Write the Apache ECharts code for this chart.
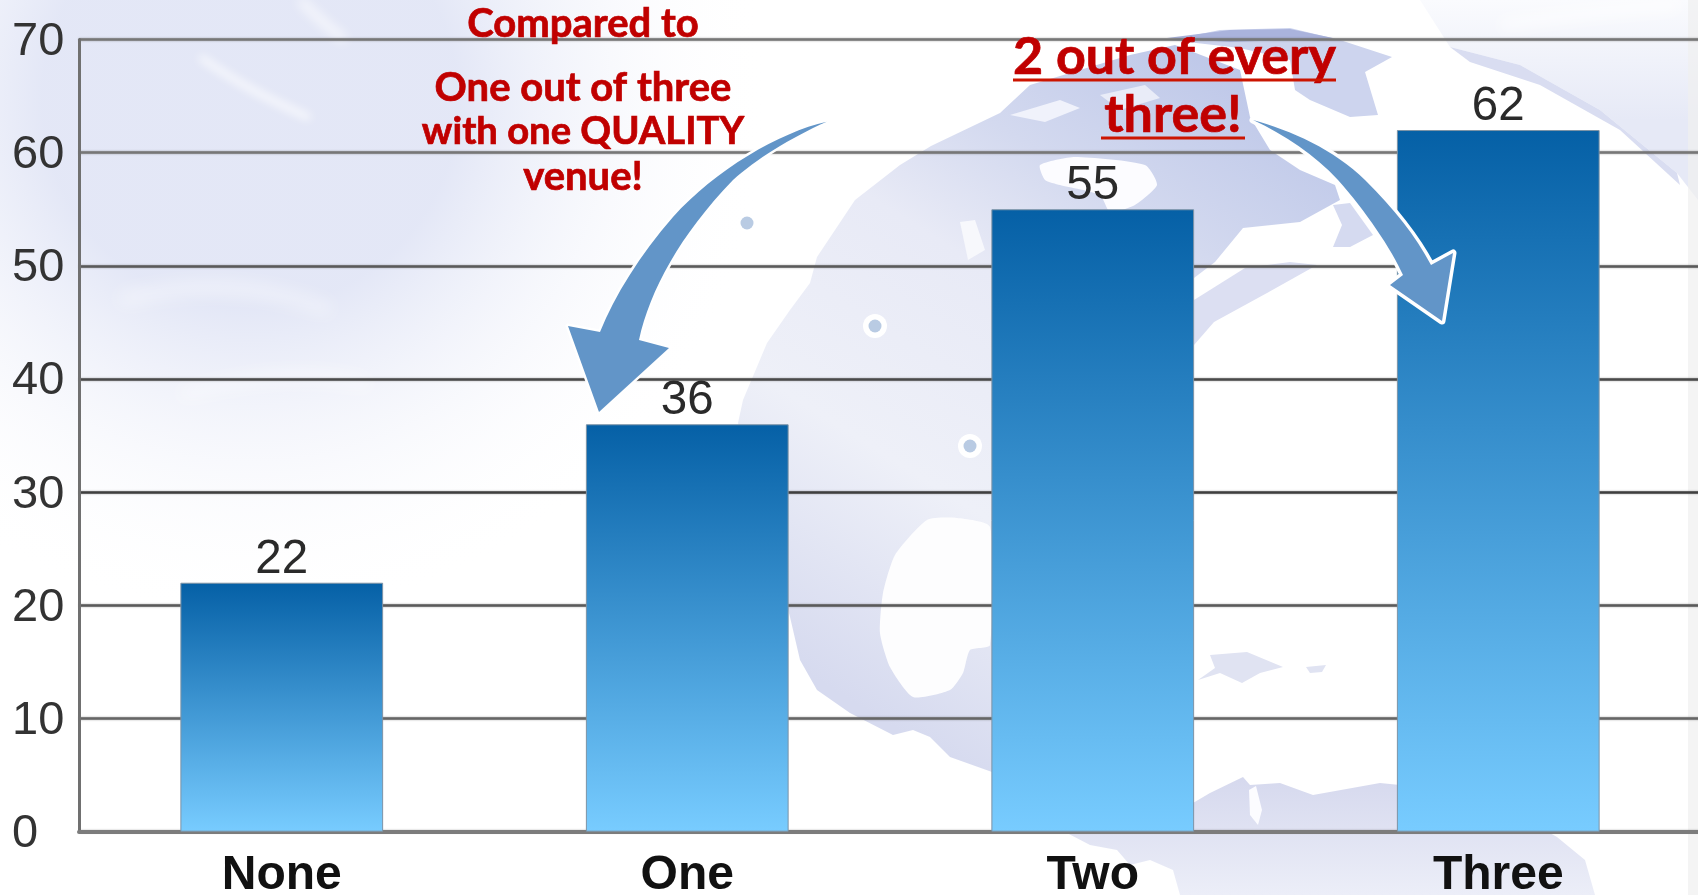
<!DOCTYPE html>
<html><head><meta charset="utf-8">
<style>html,body{margin:0;padding:0;background:#fff}#c{width:1698px;height:895px}</style>
<script src="https://cdn.jsdelivr.net/npm/echarts@6/dist/echarts.min.js"></script>
</head><body><div id="c"></div>
<script>
const categories = ['None', 'One', 'Two', 'Three'];
const values = [22, 36, 55, 62];
const axisMax = 70;
const axisStep = 10;
const leftNotes = ['Compared to', 'One out of three', 'with one QUALITY', 'venue!'];
const rightNotes = ['2 out of every', 'three!'];

const leftNoteY = [24, 88, 132, 177];
const leftNoteSize = [40, 40, 38.2, 40];
const rightNoteY = [57, 115];
const rightNoteRule = [[1013, 1336, 80], [1101, 1245, 138]];

echarts.graphic.registerShape('curve', echarts.graphic.extendShape({
  type: 'curve',
  shape: {d: ''},
  buildPath(ctx, shape) {
    const t = shape.d.match(/[MCLZ]|-?[\d.]+/g);
    let i = 0;
    const n = () => parseFloat(t[i++]);
    while (i < t.length) {
      const c = t[i++];
      if (c === 'M') ctx.moveTo(n(), n());
      else if (c === 'L') ctx.lineTo(n(), n());
      else if (c === 'C') ctx.bezierCurveTo(n(), n(), n(), n(), n(), n());
      else if (c === 'Z') ctx.closePath();
    }
  }
}));

const chart = echarts.init(document.getElementById('c'), null, {renderer: 'canvas'});
const poly = (points, fill, z, smooth) => ({type: 'polygon', z: z, silent: true, shape: {points: points, smooth: smooth || 0}, style: {fill: fill}});
const grad = (x, y, x2, y2, stops) => new echarts.graphic.LinearGradient(x, y, x2, y2, stops.map(s => ({offset: s[0], color: s[1]})), true);
const radial = (x, y, r, c) => new echarts.graphic.RadialGradient(x, y, r, [{offset: 0, color: c}, {offset: .4, color: c}, {offset: 1, color: 'rgba(255,255,255,0)'}], true);
const streak = (d, w, blur) => ({type: 'curve', z: -88, silent: true, x: -3000, shape: {d: d}, style: {fill: 'none', stroke: '#fff', lineWidth: w, shadowBlur: blur, shadowColor: '#fff', shadowOffsetX: 3000}});

const land = grad(1250, 60, 850, 700, [[0, '#bcc6e8'], [.25, '#d3d9ef'], [.42, '#e8eaf6'], [.7, '#eef0f8'], [1, '#d6daef']]);
const south = grad(0, 780, 0, 895, [[0, '#d6d9ee'], [1, '#eceef8']]);

const background = [
  {type: 'rect', z: -95, silent: true, shape: {x: 0, y: 0, width: 800, height: 650}, style: {fill: radial(250, 100, 520, 'rgba(226,230,246,.95)')}},
  poly([[1420,0],[1698,0],[1698,200],[1677,173],[1600,110],[1520,65],[1450,47]], grad(0, 0, 0, 120, [[0, '#fafbfe'], [1, '#e6e9f6']]), -91),
  streak('M200,57 C240,85 270,100 310,118', 5, 10),
  streak('M300,0 C315,15 325,25 345,40', 6, 12),
  streak('M120,300 C200,280 260,285 330,310', 6, 18),
  streak('M180,395 C260,375 310,370 370,385', 6, 18),
  streak('M1500,25 C1560,15 1620,10 1680,5', 8, 16),
  poly([[1450,47],[1520,65],[1600,110],[1677,173],[1680,185],[1620,130],[1540,85],[1470,62]], '#d9ddf1', -90),
  poly([[855,200],[900,165],[931,146],[1000,113],[1030,85],[1080,70],[1130,55],[1175,45],[1240,70],[1250,117],[1270,150],[1300,170],[1335,185],[1340,200],[1300,222],[1243,228],[1215,262],[1194,278],[1194,335],[992,780],[992,772],[950,757],[930,737],[913,730],[893,735],[850,713],[817,690],[800,660],[790,617],[760,500],[738,423],[743,400],[767,343],[790,310],[810,283],[817,257]], land, -90),
  poly([[1194,345],[1214,322],[1267,293],[1317,265],[1290,262],[1245,268],[1194,300]], '#dcdff2', -89),
  poly([[1333,205],[1350,203],[1373,235],[1350,247],[1333,247],[1342,225]], '#d5daf0', -89),
  poly([[1170,40],[1220,30],[1290,28],[1340,40],[1392,57],[1365,72],[1378,115],[1350,117],[1310,100],[1295,90],[1290,60],[1240,48]], '#cdd4ee', -89),
  poly([[1167,38],[1230,30],[1290,29],[1333,38],[1290,40],[1230,42]], '#aab3dc', -88),
  poly([[1040,165],[1075,157],[1145,165],[1157,185],[1135,205],[1110,212],[1100,195],[1060,185],[1045,180]], '#fcfcff', -88, .2),
  poly([[1010,115],[1060,100],[1080,108],[1045,122]], '#f0f2fb', -88),
  poly([[1100,95],[1145,85],[1160,98],[1120,110]], '#e9ecf8', -88),
  poly([[927,520],[957,518],[990,527],[990,645],[970,650],[963,673],[950,690],[913,697],[890,667],[880,633],[883,593],[895,555]], '#fdfdfe', -88, .2),
  poly([[960,222],[975,220],[985,250],[968,260]], '#f7f8fc', -88),
  poly([[1210,655],[1247,652],[1283,667],[1260,673],[1242,683],[1220,673],[1198,680],[1215,668]], '#e0e3f2', -89),
  poly([[1306,667],[1326,665],[1322,672],[1310,673]], '#e0e3f2', -89),
  poly([[1180,895],[1173,870],[1150,860],[1130,865],[1117,850],[1090,845],[1067,833],[1180,826],[1193,803],[1210,793],[1243,777],[1250,785],[1280,783],[1313,795],[1380,783],[1450,790],[1500,805],[1557,837],[1585,860],[1595,895]], south, -90),
  poly([[1249,790],[1256,786],[1262,810],[1258,825],[1250,815]], '#fcfcff', -88),
  {type: 'rect', z: -87, silent: true, shape: {x: 1688, y: 0, width: 10, height: 895}, style: {fill: 'rgba(240,240,240,.7)'}},
  ...[[875,326],[970,446]].map(d => ({type: 'circle', z: -81, silent: true, shape: {cx: d[0], cy: d[1], r: 12}, style: {fill: '#fff'}})),
  ...[[747,223],[875,326],[970,446]].map(d => ({type: 'circle', z: -80, silent: true, shape: {cx: d[0], cy: d[1], r: 6.5}, style: {fill: '#b9cbe3'}}))
];

const arrowOne = 'M826.7,121.7 C780,132 715,170 673,217 C640,255 615,295 600,332 L568,326 L599,412 L669,348 L639,340 C650,290 680,235 733,180 C755,160 790,138 826.7,121.7 Z';
const arrowTwo = 'M1253,120 C1290,130 1335,150 1365,180 C1395,210 1415,235 1431,265 L1453,253 L1442,321 L1390,285 L1403,275 C1392,250 1365,210 1338,180 C1315,155 1285,135 1253,120 Z';
const arrow = (d, halo, fill) => [
  {type: 'curve', z: 49, silent: true, shape: {d: d}, style: {fill: '#fff', stroke: '#fff', lineWidth: halo, lineJoin: 'round'}},
  {type: 'curve', z: 50, silent: true, shape: {d: d}, style: {fill: fill}}
];
const textShadow = {shadowColor: 'rgba(0,0,0,.55)', shadowBlur: 3, shadowOffsetX: 1.5, shadowOffsetY: 2};
const overlay = [
  ...arrow(arrowOne, 5, '#6295c8'),
  ...arrow(arrowTwo, 7, '#6295c8'),
  ...leftNotes.map((t, i) => ({type: 'text', z: 60, silent: true, style: Object.assign({text: t, x: 583, y: leftNoteY[i], align: 'center', verticalAlign: 'middle', fill: '#c00000', stroke: '#c00000', lineWidth: .7, font: 'bold ' + leftNoteSize[i] + 'px Lato'}, textShadow)})),
  ...rightNotes.map((t, i) => ({type: 'text', z: 60, silent: true, style: {text: t, x: (rightNoteRule[i][0] + rightNoteRule[i][1]) / 2, y: rightNoteY[i], align: 'center', verticalAlign: 'middle', fill: '#c00000', stroke: '#c00000', lineWidth: .7, font: 'bold 52px Lato'}})),
  ...rightNoteRule.map(r => ({type: 'line', z: 60, silent: true, shape: {x1: r[0], y1: r[2], x2: r[1], y2: r[2]}, style: {stroke: '#cc1400', lineWidth: 3}}))
];

chart.setOption({
  backgroundColor: '#ffffff',
  animation: false,
  textStyle: {fontFamily: '"Liberation Sans", Arial, sans-serif'},
  grid: {left: 79, right: -3, top: 39.5, bottom: 63.3, containLabel: false, outerBoundsMode: 'none'},
  xAxis: {
    type: 'category', data: categories,
    axisTick: {show: false},
    axisLine: {lineStyle: {color: '#7c7c7c', width: 4}},
    axisLabel: {fontSize: 48, fontWeight: 'bold', color: '#111', margin: 20, fontFamily: '"Liberation Sans"'}
  },
  yAxis: {
    type: 'value', min: 0, max: axisMax, interval: axisStep,
    axisTick: {show: false},
    axisLine: {show: true, lineStyle: {color: '#707070', width: 3}},
    axisLabel: {fontSize: 47, color: '#333', align: 'left', margin: 67, verticalAlign: 'top', lineHeight: 5, fontFamily: '"Liberation Sans"'},
    splitLine: {lineStyle: {color: ['#777', '#666', '#5a5a5a', '#3f3f3f', '#4a4a4a', '#5a5a5a', '#777', '#777'], width: 2.5, shadowBlur: 2, shadowColor: 'rgba(90,90,90,.6)'}}
  },
  series: [{
    type: 'bar', data: values, barWidth: '50%',
    itemStyle: {
      color: new echarts.graphic.LinearGradient(0, 0, 0, 1, [{offset: 0, color: '#0560a6'}, {offset: 1, color: '#78ccff'}]),
      borderColor: '#7d93a6', borderWidth: 1
    },
    label: {show: true, position: 'top', distance: -1, fontSize: 47.5, color: '#2a2a2a', fontFamily: '"Liberation Sans"'}
  }],
  graphic: {elements: background.concat(overlay)}
});
</script></body></html>
